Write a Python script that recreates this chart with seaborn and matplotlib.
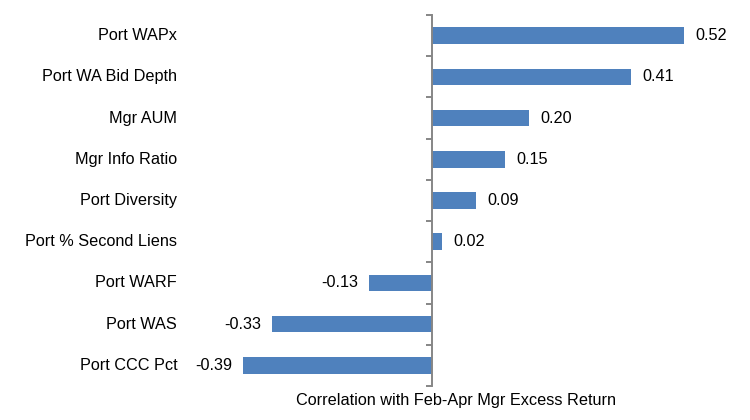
import matplotlib
matplotlib.use("Agg")
import matplotlib.pyplot as plt
import matplotlib.transforms as mtransforms
import numpy as np
import pandas as pd
import seaborn as sns

factors = ["Port WAPx", "Port WA Bid Depth", "Mgr AUM", "Mgr Info Ratio",
           "Port Diversity", "Port % Second Liens", "Port WARF", "Port WAS",
           "Port CCC Pct"]
correlations = [0.52, 0.41, 0.20, 0.15, 0.09, 0.02, -0.13, -0.33, -0.39]
x_label = "Correlation with Feb-Apr Mgr Excess Return"

df = pd.DataFrame({"factor": factors, "corr": correlations})

sns.set_style("white")
plt.rcParams["font.family"] = ["Liberation Sans", "DejaVu Sans"]
fs = 11.7

fig = plt.figure(figsize=(7.5, 4.2), dpi=100)
ax = fig.add_axes([190 / 750, 1 - 386 / 420, 533 / 750, 371 / 420])

sns.barplot(data=df, x="corr", y="factor", color="#4F81BD", saturation=1,
            width=0.4, orient="h", linewidth=0, ax=ax)

ax.set_xlim(-0.5, 0.6)
ax.set_ylim(len(factors) - 0.5, -0.5)

# value labels next to bar ends
ax.bar_label(ax.containers[0], fmt="%.2f", padding=8, fontsize=fs,
             color="#000000")

# vertical axis sits at zero, ticks between categories
for side in ["top", "right", "bottom"]:
    ax.spines[side].set_visible(False)
ax.spines["left"].set_position(("data", 0))
ax.spines["left"].set_color("#868686")
ax.spines["left"].set_linewidth(1.4)
ax.set_yticks(np.arange(len(factors) + 1) - 0.5)
ax.set_yticklabels([])
ax.tick_params(axis="y", left=True, length=4, width=1.4, color="#868686",
               direction="out")
ax.set_xticks([])

# category names at the left of the plot area
trans = mtransforms.blended_transform_factory(ax.transAxes, ax.transData)
for i, name in enumerate(factors):
    ax.text(-0.024, i, name, transform=trans, ha="right", va="center",
            fontsize=fs, color="#000000")

ax.set_ylabel("")
ax.set_xlabel(x_label, fontsize=fs, labelpad=5, color="#000000")

fig.savefig("out.png", dpi=100)
